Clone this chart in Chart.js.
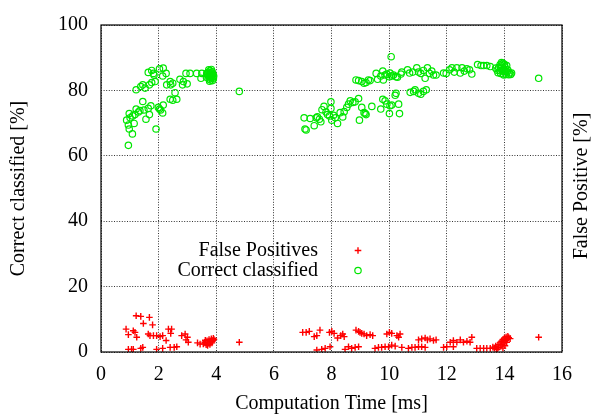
<!DOCTYPE html>
<html>
<head>
<meta charset="utf-8">
<script src="https://cdn.jsdelivr.net/npm/chart.js@4.4.1/dist/chart.umd.min.js"></script>
<style>
  html, body { margin: 0; padding: 0; background: #fff; }
  #wrap { width: 593px; height: 416px; }
</style>
</head>
<body>
<div id="wrap"><canvas id="canvas"></canvas></div>
<script>
// Correct classified [%] vs computation time [ms]
const ccTime = [
  0.95, 1.09, 0.98, 0.89, 1.01, 0.95, 1.15, 0.98, 1.10, 1.22, 1.18, 1.30, 1.35, 1.49, 1.56, 1.68,
  1.73, 1.45, 1.64, 1.91, 1.99, 2.03, 2.07, 2.16, 2.14, 2.57, 2.40, 2.49, 2.63, 1.22, 1.38, 1.45,
  1.53, 1.68, 1.76, 1.88, 1.64, 1.76, 1.82, 1.84, 2.03, 2.16, 2.26, 2.14, 2.28, 2.40, 2.42, 2.49,
  2.74, 2.86, 2.95, 2.99, 2.83, 3.09, 3.32, 3.47, 3.50, 3.67,
  3.66, 3.70, 3.72, 3.75, 3.76, 3.78, 3.79, 3.80, 3.81, 3.82, 3.84, 3.85, 3.86, 3.87, 3.88, 3.89,
  3.90, 3.74, 3.83, 3.77, 3.91, 3.68, 3.73, 3.80, 3.86,
  4.80,
  7.05, 7.08, 7.12, 7.26, 7.40, 7.47, 7.51, 7.58, 7.63, 7.67, 7.74, 7.81, 7.86, 7.93, 7.98, 7.98,
  8.01, 8.07, 8.13, 8.21, 8.30, 8.39, 8.44, 8.53, 8.59, 8.65, 8.74, 8.82, 8.94, 8.97, 9.05, 9.13,
  9.17, 9.20, 9.40, 9.71, 9.78, 9.86, 9.92, 10.01, 10.03, 10.09, 10.21, 10.24, 10.33, 10.36, 10.73,
  10.85, 10.90, 11.02, 11.10, 11.19, 11.29,
  8.85, 8.94, 9.05, 9.13, 9.20, 9.28, 9.34, 9.55, 9.60, 9.71, 9.78, 9.80, 9.86, 9.92, 10.01, 10.03,
  10.09, 10.15, 10.24, 10.29, 10.41, 10.44, 10.64, 10.71, 10.82, 10.96, 11.02, 11.10, 11.19, 11.25,
  11.33, 11.40, 11.48, 11.54, 11.63, 11.89, 11.98, 12.10, 12.18, 12.26, 12.35, 12.47, 12.53, 12.61,
  12.70, 12.79, 12.87, 13.07, 13.19, 13.28, 13.39, 13.51, 10.07,
  13.90, 13.95, 14.00, 13.85, 13.92, 14.02, 13.80, 13.88, 13.97, 14.05, 13.75, 13.84, 13.93, 14.02,
  14.10, 14.18, 13.78, 13.87, 13.96, 14.06, 14.15, 14.22, 14.25, 13.70, 14.08, 13.98, 14.12,
  15.19
];
const ccRate = [
  63.2, 66.7, 68.2, 70.9, 71.6, 69.4, 69.9, 72.9, 72.2, 74.3, 72.6, 73.4, 73.8, 74.0, 71.2, 72.6,
  75.3, 76.6, 74.5, 68.2, 74.8, 74.3, 74.0, 75.5, 73.1, 79.3, 77.3, 77.0, 77.3, 80.2, 81.2, 81.7,
  80.7, 81.7, 82.4, 82.7, 85.5, 86.1, 85.2, 84.7, 86.6, 86.8, 85.2, 84.4, 81.7, 82.7, 81.7, 82.2,
  83.4, 82.7, 85.2, 82.0, 81.7, 85.2, 85.2, 83.7, 85.2, 85.2,
  84.0, 84.8, 85.5, 83.5, 84.2, 85.0, 86.0, 83.2, 84.5, 85.3, 83.8, 84.6, 85.7, 83.0, 84.1, 84.9,
  83.6, 86.3, 86.4, 82.8, 84.4, 85.1, 84.4, 84.0, 84.8,
  79.7,
  71.6, 68.2, 67.9, 71.4, 69.2, 71.6, 71.9, 71.2, 70.4, 74.1, 75.1, 73.4, 72.6, 72.2, 76.5, 74.5,
  70.9, 72.4, 71.6, 69.9, 73.2, 71.9, 73.5, 74.8, 75.8, 76.8, 76.3, 76.5, 77.5, 70.9, 74.8, 73.2,
  72.9, 72.6, 75.1, 74.3, 77.3, 76.8, 75.8, 72.9, 75.3, 75.5, 78.5, 79.1, 75.8, 72.9, 79.4,
  79.7, 80.2, 79.1, 78.8, 79.7, 80.2,
  83.2, 83.0, 82.7, 82.2, 82.4, 83.2, 83.0, 85.2, 83.4, 84.4, 85.9, 83.2, 84.7, 85.0, 84.2, 85.3,
  84.4, 84.7, 84.2, 84.0, 85.0, 85.6, 86.3, 85.3, 85.6, 86.9, 85.6, 85.2, 86.1, 83.7,
  86.9, 85.2, 85.9, 84.7, 84.7, 85.3, 85.2, 86.3, 86.9, 85.6, 86.9, 85.3, 86.9, 85.9,
  86.6, 86.3, 85.0, 87.9, 87.6, 87.6, 87.6, 87.3, 90.3,
  88.5, 88.3, 88.0, 87.8, 87.5, 87.2, 87.0, 86.8, 86.6, 86.4, 86.2, 86.0, 85.9, 85.8,
  85.6, 85.3, 85.4, 85.2, 85.0, 84.9, 84.8, 84.9, 85.3, 86.8, 87.6, 84.7, 86.2,
  83.7
];

// False positives [%] vs computation time [ms]
const fpTime = [
  1.22, 1.38, 1.68, 1.79, 1.47, 0.87, 0.95, 1.12, 1.18, 1.24, 1.64, 1.70, 1.82, 1.93, 2.05, 2.14,
  2.26, 2.34, 2.42, 2.45, 2.80, 2.92, 3.00, 3.03, 2.95, 3.35, 3.44,
  0.95, 1.06, 1.12, 1.38, 1.45, 1.93, 2.14, 2.40, 2.54, 2.63,
  3.55, 3.60, 3.65, 3.68, 3.72, 3.75, 3.78, 3.80, 3.83, 3.85, 3.88, 3.90, 3.62, 3.70, 3.92, 3.86,
  4.80,
  7.00, 7.12, 7.23, 7.40, 7.49, 7.60, 7.93, 8.01, 8.09, 8.21, 8.32, 8.39, 8.44, 8.85, 8.94, 8.99,
  9.05, 9.13, 9.22, 9.34, 9.43, 9.92, 10.01, 10.09, 10.27, 10.33, 10.38, 11.02, 11.13, 11.25, 11.33,
  11.42, 11.54, 11.63, 12.12, 12.23, 12.35, 12.47, 12.58, 12.70, 12.87, 12.81,
  7.49, 7.66, 7.78, 7.95, 8.47, 8.59, 8.70, 8.82, 8.94, 9.51, 9.63, 9.74, 9.86, 9.98, 10.09, 10.21,
  10.44, 10.67, 10.79, 10.90, 11.02, 11.13, 11.25, 11.89, 12.00, 12.23, 13.04, 13.16, 13.28, 13.39,
  13.51,
  13.65, 13.70, 13.72, 13.78, 13.80, 13.85, 13.88, 13.90, 13.92, 13.95, 13.98, 14.00, 14.03, 14.06,
  14.10, 14.15, 14.20, 13.95, 14.02, 13.75, 14.08, 13.60, 14.12,
  15.19
];
const fpRate = [
  11.1, 10.9, 10.6, 8.3, 8.7, 7.0, 5.3, 6.5, 6.0, 4.5, 5.5, 5.0, 5.0, 5.0, 4.7, 5.0,
  3.5, 7.0, 5.7, 7.0, 5.0, 5.5, 4.5, 3.0, 3.7, 2.8, 2.4,
  0.8, 0.8, 0.8, 1.1, 1.4, 0.8, 1.1, 1.4, 1.4, 1.6,
  2.5, 3.0, 2.2, 3.4, 2.7, 3.8, 2.3, 3.2, 4.0, 2.8, 3.5, 4.2, 3.6, 2.0, 3.8, 3.3,
  3.0,
  6.0, 6.0, 6.3, 4.7, 5.0, 6.7, 6.0, 6.3, 5.7, 4.3, 5.0, 5.5, 4.7, 6.7, 6.3, 6.0,
  5.7, 5.5, 5.0, 5.3, 5.0, 5.5, 6.0, 5.7, 5.0, 4.5, 5.5, 3.7, 4.0, 4.3, 3.7,
  4.0, 3.5, 3.7, 3.0, 3.5, 3.0, 3.7, 3.0, 3.3, 4.5, 3.0,
  0.6, 0.8, 1.1, 1.6, 0.8, 1.6, 1.1, 1.4, 1.6, 1.1, 1.4, 1.4, 1.6, 1.6, 2.1, 1.8,
  1.4, 1.1, 1.4, 1.4, 1.6, 1.6, 1.4, 1.4, 1.6, 1.6, 1.1, 1.1, 1.1, 1.1,
  1.1,
  1.2, 1.8, 1.0, 2.2, 1.4, 2.8, 1.8, 3.3, 2.3, 3.8, 2.8, 4.3, 3.5, 4.6,
  3.9, 4.4, 4.1, 1.2, 1.9, 0.8, 3.0, 1.5, 4.8,
  4.5
];

const xTicks = [0, 2, 4, 6, 8, 10, 12, 14, 16];
const yTicks = [0, 20, 40, 60, 80, 100];

const serif = "'Liberation Serif', 'DejaVu Serif', serif";
const green = '#00e600';
const red = '#ff0000';

// gnuplot-like key, frame and right-hand label
const extras = {
  id: 'extras',
  afterDraw(chart) {
    const ctx = chart.ctx;
    const a = chart.chartArea;
    ctx.save();
    ctx.strokeStyle = '#000';
    ctx.lineWidth = 1.2;
    ctx.strokeRect(a.left, a.top, a.right - a.left, a.bottom - a.top);

    ctx.font = '20px ' + serif;
    ctx.fillStyle = '#000';
    ctx.textAlign = 'right';
    ctx.textBaseline = 'middle';
    const keyX = 318, markX = 358;
    const rows = [[chart.data.datasets[0], 250.5], [chart.data.datasets[1], 270.5]];
    rows.forEach(([ds, y]) => {
      ctx.fillText(ds.label, keyX, y);
      ctx.strokeStyle = ds.borderColor;
      ctx.lineWidth = ds.borderWidth;
      ctx.beginPath();
      if (ds.pointStyle === 'cross') {
        ctx.moveTo(markX - 3.3, y); ctx.lineTo(markX + 3.3, y);
        ctx.moveTo(markX, y - 3.3); ctx.lineTo(markX, y + 3.3);
      } else {
        ctx.arc(markX, y, 3.2, 0, Math.PI * 2);
      }
      ctx.stroke();
    });

    ctx.translate(582, 186);
    ctx.rotate(-Math.PI / 2);
    ctx.textAlign = 'center';
    ctx.fillStyle = '#000';
    ctx.fillText('False Positive [%]', 0, 0);
    ctx.restore();
  }
};

const ctx = document.getElementById('canvas').getContext('2d');
const myChart = new Chart(ctx, {
  type: 'scatter',
  data: {
    datasets: [{
      label: 'False Positives',
      data: fpTime.map((t, i) => ({ x: t, y: fpRate[i] })),
      pointStyle: 'cross',
      pointRadius: 3.3,
      borderColor: red,
      backgroundColor: red,
      borderWidth: 1.4
    }, {
      label: 'Correct classified',
      data: ccTime.map((t, i) => ({ x: t, y: ccRate[i] })),
      pointStyle: 'circle',
      pointRadius: 3.2,
      borderColor: green,
      backgroundColor: 'rgba(0,0,0,0)',
      borderWidth: 1.2
    }]
  },
  options: {
    responsive: true,
    maintainAspectRatio: false,
    animation: false,
    events: [],
    layout: { padding: { top: 13, left: 0, right: 31, bottom: 0 } },
    plugins: {
      legend: { display: false },
      tooltip: { enabled: false }
    },
    scales: {
      x: {
        type: 'linear',
        min: 0,
        max: 16,
        afterBuildTicks: (scale) => { scale.ticks = xTicks.map(v => ({ value: v })); },
        afterFit: (scale) => { scale.height = 64; },
        ticks: { color: '#000', padding: 11, font: { family: serif, size: 20 } },
        grid: { color: '#333', lineWidth: 1, drawTicks: false },
        border: { display: false, dash: [1, 1.6] },
        title: {
          display: true,
          text: 'Computation Time [ms]',
          color: '#000',
          font: { family: serif, size: 20 },
          padding: { top: 0, bottom: 0 }
        }
      },
      y: {
        min: 0,
        max: 100,
        afterBuildTicks: (scale) => { scale.ticks = yTicks.map(v => ({ value: v })); },
        afterFit: (scale) => { scale.width = 101; },
        ticks: { color: '#000', padding: 13, font: { family: serif, size: 20 } },
        grid: { color: '#333', lineWidth: 1, drawTicks: false },
        border: { display: false, dash: [1, 1.6] },
        title: {
          display: true,
          text: 'Correct classified [%]',
          color: '#000',
          font: { family: serif, size: 20 },
          padding: { top: 7, bottom: 0 }
        }
      }
    }
  },
  plugins: [extras]
});
</script>
</body>
</html>
